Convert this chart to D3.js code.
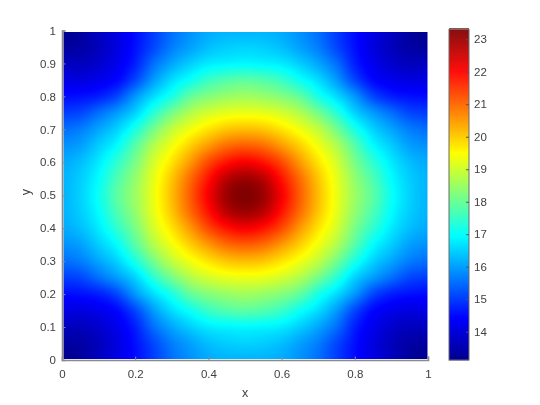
<!DOCTYPE html>
<html><head><meta charset="utf-8">
<script src="https://cdnjs.cloudflare.com/ajax/libs/d3/7.8.5/d3.min.js"></script>
<style>html,body{margin:0;padding:0;background:#fff}svg{display:block;filter:blur(0.4px)}text{font-family:"Liberation Sans",Arial,sans-serif;fill:#404040}</style>
</head><body><svg id="c" width="540" height="405"></svg>
<script>
const xTicks=[0,0.2,0.4,0.6,0.8,1];
const yTicks=[0,0.1,0.2,0.3,0.4,0.5,0.6,0.7,0.8,0.9,1];
const barTicks=[14,15,16,17,18,19,20,21,22,23];
const valueRange=[13.13,23.3];
const jetStops=[0,0.125,0.375,0.625,0.875,1];
const jetColors=["#00008f","#0000ff","#00ffff","#ffff00","#ff0000","#800000"];
// field, rows y=0..1, columns x=0..1, step 0.05
const field=[
[13.13,13.30,13.70,14.10,14.50,15.00,15.50,15.85,16.10,16.20,16.20,16.20,16.10,15.85,15.50,15.00,14.50,14.10,13.70,13.30,13.13],
[13.30,13.40,13.65,14.05,14.55,15.10,15.65,16.00,16.30,16.45,16.50,16.45,16.30,16.00,15.65,15.10,14.55,14.05,13.65,13.40,13.30],
[13.70,13.65,13.85,14.20,14.70,15.50,16.05,16.45,16.75,16.85,16.90,16.85,16.75,16.45,16.05,15.50,14.70,14.20,13.85,13.65,13.70],
[14.10,14.05,14.20,14.45,15.10,15.95,16.60,17.05,17.50,17.75,17.85,17.75,17.50,17.05,16.60,15.95,15.10,14.45,14.20,14.05,14.10],
[14.50,14.55,14.70,15.10,15.90,16.60,17.20,17.90,18.25,18.45,18.55,18.45,18.25,17.90,17.20,16.60,15.90,15.10,14.70,14.55,14.50],
[15.00,15.10,15.50,15.95,16.50,17.35,18.10,18.70,19.05,19.25,19.30,19.25,19.05,18.70,18.10,17.35,16.50,15.95,15.50,15.10,15.00],
[15.50,15.65,16.05,16.50,17.20,18.10,18.85,19.35,19.75,20.05,20.15,20.05,19.75,19.35,18.85,18.10,17.20,16.50,16.05,15.65,15.50],
[15.85,16.00,16.45,16.95,17.80,18.70,19.35,19.95,20.50,20.95,21.10,20.95,20.50,19.95,19.35,18.70,17.80,16.95,16.45,16.00,15.85],
[16.10,16.30,16.75,17.40,18.15,19.05,19.75,20.50,21.30,21.85,22.10,21.85,21.30,20.50,19.75,19.05,18.15,17.40,16.75,16.30,16.10],
[16.20,16.45,16.95,17.70,18.40,19.25,20.05,20.95,21.85,22.70,23.00,22.70,21.85,20.95,20.05,19.25,18.40,17.70,16.95,16.45,16.20],
[16.20,16.50,17.05,17.85,18.50,19.30,20.15,21.10,22.10,23.00,23.30,23.00,22.10,21.10,20.15,19.30,18.50,17.85,17.05,16.50,16.20],
[16.20,16.45,16.95,17.70,18.40,19.25,20.05,20.95,21.85,22.70,23.00,22.70,21.85,20.95,20.05,19.25,18.40,17.70,16.95,16.45,16.20],
[16.10,16.30,16.75,17.40,18.15,19.05,19.75,20.50,21.30,21.85,22.10,21.85,21.30,20.50,19.75,19.05,18.15,17.40,16.75,16.30,16.10],
[15.85,16.00,16.45,16.95,17.80,18.70,19.35,19.95,20.50,20.95,21.10,20.95,20.50,19.95,19.35,18.70,17.80,16.95,16.45,16.00,15.85],
[15.50,15.65,16.05,16.50,17.20,18.10,18.85,19.35,19.75,20.05,20.15,20.05,19.75,19.35,18.85,18.10,17.20,16.50,16.05,15.65,15.50],
[15.00,15.10,15.50,15.95,16.50,17.35,18.10,18.70,19.05,19.25,19.30,19.25,19.05,18.70,18.10,17.35,16.50,15.95,15.50,15.10,15.00],
[14.50,14.55,14.70,15.10,15.90,16.60,17.20,17.90,18.25,18.45,18.55,18.45,18.25,17.90,17.20,16.60,15.90,15.10,14.70,14.55,14.50],
[14.10,14.05,14.20,14.45,15.10,15.95,16.60,17.05,17.50,17.75,17.85,17.75,17.50,17.05,16.60,15.95,15.10,14.45,14.20,14.05,14.10],
[13.70,13.65,13.85,14.20,14.70,15.50,16.05,16.45,16.75,16.85,16.90,16.85,16.75,16.45,16.05,15.50,14.70,14.20,13.85,13.65,13.70],
[13.30,13.40,13.65,14.05,14.55,15.10,15.65,16.00,16.30,16.45,16.50,16.45,16.30,16.00,15.65,15.10,14.55,14.05,13.65,13.40,13.30],
[13.13,13.30,13.70,14.10,14.50,15.00,15.50,15.85,16.10,16.20,16.20,16.20,16.10,15.85,15.50,15.00,14.50,14.10,13.70,13.30,13.13]
];

const svg=d3.select("#c");
const axisColor="#8a8a8a", textColor="#404040";
const x=d3.scaleLinear().domain([0,1]).range([62,428]);
const y=d3.scaleLinear().domain([0,1]).range([360,30.5]);
const cy=d3.scaleLinear().domain(valueRange).range([360,29.5]);
const jet=d3.scaleLinear().domain(jetStops.map(t=>valueRange[0]+t*(valueRange[1]-valueRange[0]))).range(jetColors).interpolate(d3.interpolateRgb).clamp(true);

const n=field.length-1;
function cr(a,b,c,d,t){return 0.5*(2*b+(c-a)*t+(2*a-5*b+4*c-d)*t*t+(3*b-a-3*c+d)*t*t*t);}
const cl=i=>Math.max(0,Math.min(n,i));
function sample(u,v){
  const fx=Math.min(u*n,n-1e-6),fy=Math.min(v*n,n-1e-6);
  const ix=Math.floor(fx),iy=Math.floor(fy),tx=fx-ix,ty=fy-iy;
  const r=[-1,0,1,2].map(dy=>{const row=field[cl(iy+dy)];
    return cr(row[cl(ix-1)],row[cl(ix)],row[cl(ix+1)],row[cl(ix+2)],tx);});
  return cr(r[0],r[1],r[2],r[3],ty);
}
const imgL=x(0)+1.5,imgR=x(1)-1,imgT=y(1)+1.5,imgB=y(0)-1.5;
const W=Math.round(imgR-imgL),H=Math.round(imgB-imgT);
const canvas=document.createElement("canvas");canvas.width=W;canvas.height=H;
const ctx=canvas.getContext("2d");const im=ctx.createImageData(W,H);
for(let j=0;j<H;j++)for(let i=0;i<W;i++){
  const u=x.invert(imgL+i+0.5),v=y.invert(imgT+j+0.5);
  const c=d3.rgb(jet(sample(Math.max(0,Math.min(1,u)),Math.max(0,Math.min(1,v)))));
  const k=(j*W+i)*4;im.data[k]=c.r;im.data[k+1]=c.g;im.data[k+2]=c.b;im.data[k+3]=255;
}
ctx.putImageData(im,0,0);
svg.append("image").attr("x",imgL).attr("y",imgT).attr("width",W).attr("height",H).attr("href",canvas.toDataURL());

const fmt=d=>String(d);
const gx=svg.append("g").attr("transform",`translate(0,${y(0)})`)
  .call(d3.axisBottom(x).tickValues(xTicks).tickFormat(fmt).tickSize(-3.5).tickPadding(10));
const gy=svg.append("g").attr("transform",`translate(${x(0)},0)`)
  .call(d3.axisLeft(y).tickValues(yTicks).tickFormat(fmt).tickSize(-3.5).tickPadding(6));
[gx,gy].forEach(g=>{
  g.select(".domain").attr("stroke",axisColor).attr("stroke-width",1.6);
  g.selectAll(".tick line").attr("stroke",axisColor).attr("stroke-width",1);
  g.selectAll("text").attr("font-size",11.5).attr("font-family","Liberation Sans").attr("fill",textColor);
});
svg.append("text").attr("x",245).attr("y",397).attr("text-anchor","middle").attr("font-size",12.5).text("x");
svg.append("text").attr("transform","translate(30,192) rotate(-90)").attr("text-anchor","middle").attr("font-size",12.5).text("y");

const levels=d3.range(0,331).map(i=>valueRange[0]+(valueRange[1]-valueRange[0])*i/330);
const barG=svg.append("g");
barG.selectAll("rect").data(levels).join("rect")
  .attr("x",449).attr("width",20)
  .attr("y",d=>cy(d)-1.2).attr("height",1.5)
  .attr("fill",d=>jet(d));
barG.append("rect").attr("x",449).attr("y",cy(valueRange[1])).attr("width",20).attr("height",cy(valueRange[0])-cy(valueRange[1]))
  .attr("fill","none").attr("stroke","#6a6a6a").attr("stroke-width",1);
const gc=svg.append("g").attr("transform","translate(469,0)")
  .call(d3.axisRight(cy).tickValues(barTicks).tickFormat(fmt).tickSize(-3).tickPadding(5));
gc.select(".domain").remove();
gc.selectAll(".tick line").attr("stroke","#555");
gc.selectAll("text").attr("font-size",11.5).attr("font-family","Liberation Sans").attr("fill",textColor);
</script></body></html>
